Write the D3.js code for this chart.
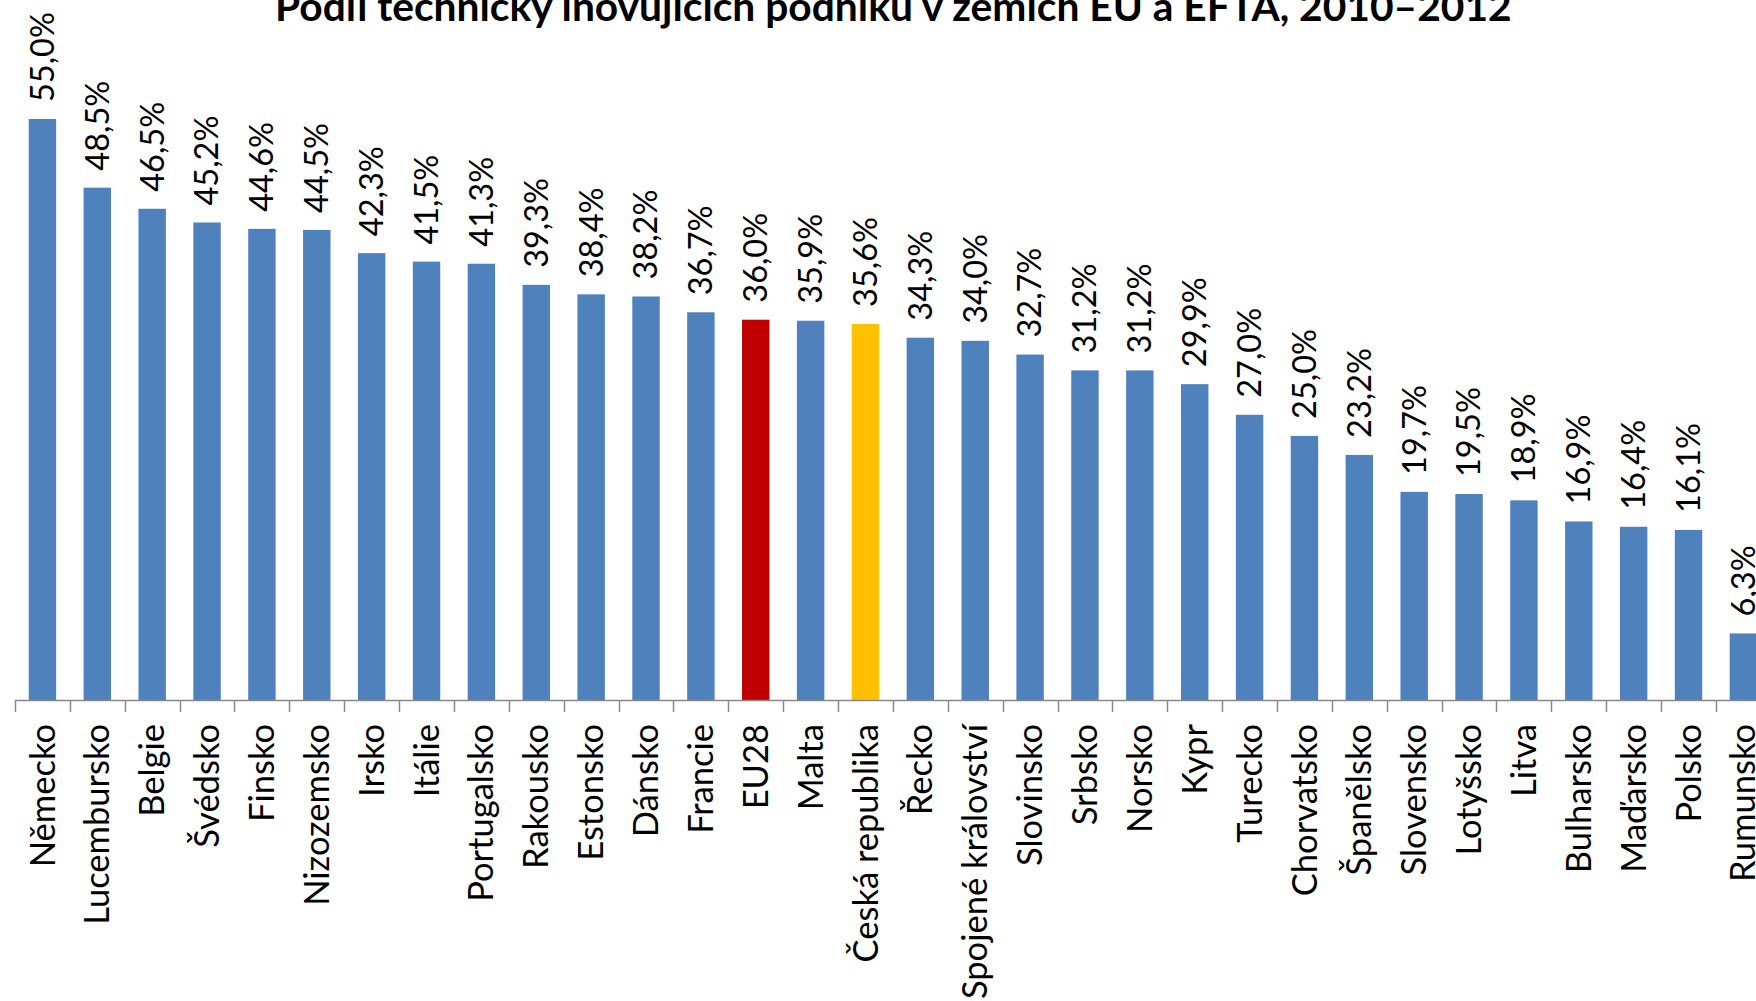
<!DOCTYPE html>
<html>
<head>
<meta charset="utf-8">
<script src="https://cdn.jsdelivr.net/npm/d3@7"></script>
<style>
  html, body { margin: 0; padding: 0; background: #fff; }
  svg { display: block; }
  text { font-family: Lato, "Open Sans", sans-serif; fill: #000; }
</style>
</head>
<body>
<svg id="chart" width="1756" height="1001"></svg>
<script>
const titleText = "Podíl technicky inovujících podniků v zemích EU a EFTA, 2010–2012";

const categories = ["Německo","Lucembursko","Belgie","Švédsko","Finsko","Nizozemsko","Irsko","Itálie",
  "Portugalsko","Rakousko","Estonsko","Dánsko","Francie","EU28","Malta","Česká republika","Řecko",
  "Spojené království","Slovinsko","Srbsko","Norsko","Kypr","Turecko","Chorvatsko","Španělsko",
  "Slovensko","Lotyšsko","Litva","Bulharsko","Maďarsko","Polsko","Rumunsko"];

const values = [55.0,48.5,46.5,45.2,44.6,44.5,42.3,41.5,41.3,39.3,38.4,38.2,36.7,36.0,35.9,35.6,34.3,
  34.0,32.7,31.2,31.2,29.9,27.0,25.0,23.2,19.7,19.5,18.9,16.9,16.4,16.1,6.3];

const highlightEU = "EU28";
const highlightCZ = "Česká republika";

const svg = d3.select("#chart");
const baseY = 700;
const x = d3.scaleBand().domain(categories).range([15, 15 + 54.87 * categories.length]).paddingInner(0.5).paddingOuter(0.25);
const y = d3.scaleLinear().domain([0, 55]).range([baseY, 119]);

const data = categories.map((c, i) => ({ c, v: values[i] }));

const color = d => d.c === highlightEU ? "#C00000" : (d.c === highlightCZ ? "#FFC000" : "#4F81BD");

svg.append("g").selectAll("rect").data(data).join("rect")
  .attr("x", d => x(d.c))
  .attr("y", d => y(d.v))
  .attr("width", x.bandwidth())
  .attr("height", d => baseY - y(d.v))
  .attr("fill", color);

// axis
const bandStep = x.step();
const axisStart = 15;
const tickPositions = d3.range(categories.length + 1).map(i => axisStart + i * bandStep);
const axisG = svg.append("g");
axisG.append("line")
  .attr("x1", axisStart).attr("x2", axisStart + categories.length * bandStep)
  .attr("y1", baseY + 0.5).attr("y2", baseY + 0.5)
  .attr("stroke", "#898989").attr("stroke-width", 1.5);
axisG.selectAll("line.tick").data(tickPositions).join("line")
  .attr("class", "tick")
  .attr("x1", d => Math.round(d) + 0.5).attr("x2", d => Math.round(d) + 0.5)
  .attr("y1", baseY).attr("y2", baseY + 12)
  .attr("stroke", "#898989").attr("stroke-width", 1.5);

const fmt = v => d3.format(".1f")(v).replace(".", ",") + "%";
const cx = d => x(d.c) + x.bandwidth() / 2;

// value labels
svg.append("g").selectAll("text").data(data).join("text")
  .attr("transform", d => `translate(${cx(d)},${y(d.v) - 17}) rotate(-90)`)
  .attr("dy", "0.35em")
  .attr("text-anchor", "start")
  .style("font-size", "32.5px")
  .text(d => fmt(d.v));

// category labels
svg.append("g").selectAll("text").data(data).join("text")
  .attr("transform", d => `translate(${cx(d)},${baseY + 24}) rotate(-90)`)
  .attr("dy", "0.35em")
  .attr("text-anchor", "end")
  .style("font-size", "34.5px")
  .text(d => d.c);

// title
const title = svg.append("text")
  .attr("x", 275).attr("y", 21)
  .style("font-size", "40px").style("font-weight", "700")
  .text(titleText);
const w = title.node().getComputedTextLength();
title.style("font-size", (40 * 1237 / w) + "px");
</script>
</body>
</html>
